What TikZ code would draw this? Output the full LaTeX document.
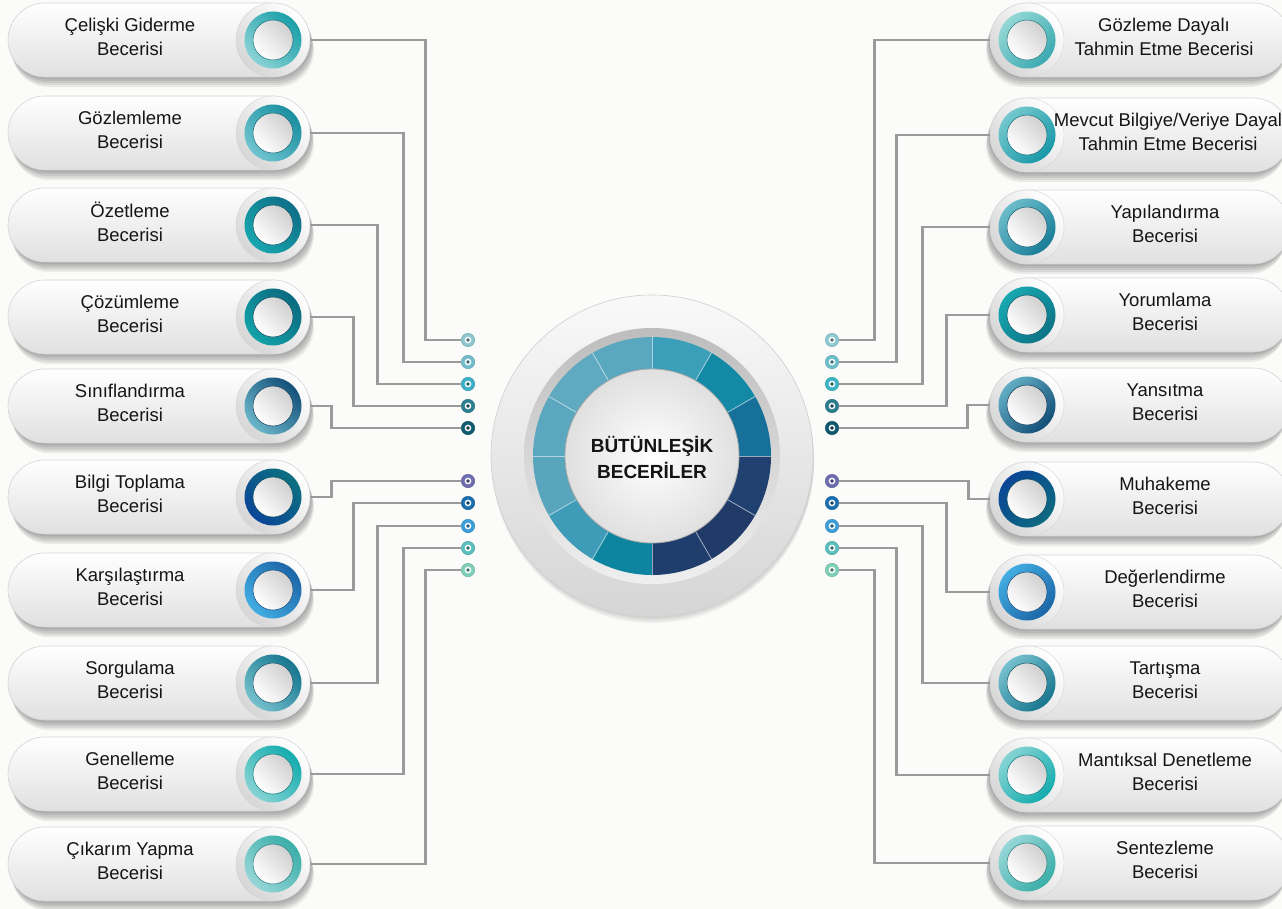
\documentclass[tikz,border=0pt]{standalone}
\usepackage{fontspec}
\setmainfont{Liberation Sans}
\usetikzlibrary{calc}
\definecolor{bgc}{HTML}{FBFBFA}
\definecolor{linegray}{HTML}{9A9A9A}
\definecolor{pillbot}{HTML}{E0E0E0}
\definecolor{pillline}{HTML}{D4D4D4}
\definecolor{halobot}{HTML}{D6D6D6}
\definecolor{txt}{HTML}{151515}
\definecolor{rd}{HTML}{000000}
\definecolor{rl}{HTML}{000000}
\definecolor{dc}{HTML}{000000}
\definecolor{innergray}{HTML}{D0D0D0}
\definecolor{ctop}{HTML}{F9F9F9}
\definecolor{cbot}{HTML}{D5D5D5}
\definecolor{cedge}{HTML}{CFCFCF}
\definecolor{btop}{HTML}{BDBDBD}
\definecolor{bbot}{HTML}{EFEFEF}
\definecolor{wout}{HTML}{E0E0E0}
\definecolor{wedge}{HTML}{A8A8A8}
\tikzset{
  conn/.style={draw=linegray,line width=2.8pt},
  lbl/.style={align=center,font=\fontsize{18.5}{24}\selectfont,text=txt,inner sep=0pt},
  pillbody/.style={rounded corners=37pt,top color=white,bottom color=pillbot,draw=pillline,line width=0.6pt},
  halo/.style={circle,minimum size=74pt,inner sep=0pt,left color=white,right color=halobot,shading angle=-45,draw=pillline,line width=0.4pt},
  innerw/.style={left color=white,right color=innergray,shading angle=135},
  dotn/.style={circle,minimum size=13.5pt,inner sep=0pt},
}
\newcommand\Lpill[5]{%
  \definecolor{rd}{HTML}{#4}\definecolor{rl}{HTML}{#5}%
  \foreach \dx/\dy in {1/2,2/4,3/6,3/8,4/10}{\fill[black,opacity=0.07,rounded corners=37pt] (8+\dx,#2-37+\dy) rectangle (310+\dx,#2+37+\dy);}%
  \path[pillbody] (8,#2-37) rectangle (310,#2+37);%
  \node[halo] (#1) at (273,#2) {};%
  \shade[left color=rd,right color=rl,shading angle=-45] (#1.center) circle (28.5);%
  \shade[innerw,draw=rd!70!black,line width=0.5pt] (#1.center) circle (20);%
  \node[lbl] (#1t) at (130,#2-3) {#3};}
\newcommand\Rpill[6]{%
  \definecolor{rd}{HTML}{#4}\definecolor{rl}{HTML}{#5}%
  \foreach \dx/\dy in {1/2,2/4,3/6,3/8,4/10}{\fill[black,opacity=0.07,rounded corners=37pt] (990-\dx,#2-37+\dy) rectangle (1290-\dx,#2+37+\dy);}%
  \path[pillbody] (990,#2-37) rectangle (1290,#2+37);%
  \node[halo] (#1) at (1027,#2) {};%
  \shade[left color=rl,right color=rd,shading angle=45] (#1.center) circle (28.5);%
  \shade[innerw,draw=rd!70!black,line width=0.5pt] (#1.center) circle (20);%
  \node[lbl] (#1t) at (#6,#2-3) {#3};}
\newcommand\Dotn[4]{%
  \definecolor{dc}{HTML}{#4}%
  \node[dotn,fill=dc,draw=dc!85!black,line width=0.4pt] (#1) at (#2,#3) {};%
  \fill[white!92!dc] (#1.center) circle (3.4);%
  \fill[dc!55!black] (#1.center) circle (1.8);}
\newcommand\Lconn[3]{\draw[conn] (#1.east) -- ++(#3,0) |- (#2.west);}
\newcommand\Rconn[3]{\draw[conn] (#1.west) -- ++(#3,0) |- (#2.east);}
\begin{document}
\begin{tikzpicture}[x=1pt,y=-1pt]
\useasboundingbox (0,0) rectangle (1282,909);
\fill[bgc] (0,0) rectangle (1282,909);
% left pills
\Lpill{L1}{40}{Çelişki Giderme\\Becerisi}{1B9FA8}{8AD3D6}
\Lpill{L2}{133}{Gözlemleme\\Becerisi}{1A8FA0}{6FC4CF}
\Lpill{L3}{225}{Özetleme\\Becerisi}{0E7088}{18A6AE}
\Lpill{L4}{317}{Çözümleme\\Becerisi}{0B6A80}{13A2A8}
\Lpill{L5}{406}{Sınıflandırma\\Becerisi}{14507A}{6AB6C9}
\Lpill{L6}{497}{Bilgi Toplama\\Becerisi}{0D7080}{0B4698}
\Lpill{L7}{590}{Karşılaştırma\\Becerisi}{1C66A8}{42ADE2}
\Lpill{L8}{683}{Sorgulama\\Becerisi}{16768F}{75C0CD}
\Lpill{L9}{774}{Genelleme\\Becerisi}{14ACAE}{86D3D3}
\Lpill{L10}{864}{Çıkarım Yapma\\Becerisi}{3AAEA8}{96D6D8}
% right pills
\Rpill{R1}{40}{Gözleme Dayalı\\Tahmin Etme Becerisi}{3AAAB0}{94D7D6}{1164}
\Rpill{R2}{135}{Mevcut Bilgiye/Veriye Dayal\\Tahmin Etme Becerisi}{1898A8}{74C8CE}{1168}
\Rpill{R3}{227}{Yapılandırma\\Becerisi}{187D98}{6BBCCB}{1165}
\Rpill{R4}{315}{Yorumlama\\Becerisi}{0C7487}{18A8B0}{1165}
\Rpill{R5}{405}{Yansıtma\\Becerisi}{124E78}{62ADC4}{1165}
\Rpill{R6}{499}{Muhakeme\\Becerisi}{0D6A80}{0A4696}{1165}
\Rpill{R7}{592}{Değerlendirme\\Becerisi}{1C66A8}{42ADE2}{1165}
\Rpill{R8}{683}{Tartışma\\Becerisi}{16768F}{75C0CD}{1165}
\Rpill{R9}{775}{Mantıksal Denetleme\\Becerisi}{14ACAE}{86D3D3}{1165}
\Rpill{R10}{863}{Sentezleme\\Becerisi}{3AAEA8}{96D6D8}{1165}
% centre
\coordinate (C) at (652,456);
\foreach \s in {2,4,6}{\fill[black,opacity=0.05] ($(C)+(1,\s)$) circle (161);}
\shade[top color=ctop,bottom color=cbot,draw=cedge,line width=0.6pt] (C) circle (161);
\shade[top color=btop,bottom color=bbot] (C) circle (128);
\foreach \a/\c in {0/17709A,30/1389A6,60/3B9FBA,90/5AA8C0,120/5FA9C1,150/5BA7BF,180/59A5BD,210/3F9CB8,240/0D85A1,270/1F3E6D,300/213B69,330/204170}{
  \definecolor{segc}{HTML}{\c}
  \fill[segc,shift={(652,456)}] (-\a:119) arc[start angle=-\a,end angle=-\a-30,radius=119] -- (-\a-30:87) arc[start angle=-\a-30,end angle=-\a,radius=87] -- cycle;}
\foreach \a in {0,30,...,330}{\draw[white,opacity=0.55,line width=0.8pt,shift={(652,456)}] (-\a:87) -- (-\a:119);}
\shade[inner color=white,outer color=wout,draw=wedge,line width=0.8pt] (C) circle (87);
\node[font=\bfseries\fontsize{19}{26}\selectfont,align=center,text=txt] (title) at (652,457) {BÜTÜNLEŞİK\\BECERİLER};
% connectors
\Dotn{D1}{468}{340}{8CC6CF}\Dotn{D2}{468}{362}{72BCCB}\Dotn{D3}{468}{384}{3AB0C4}\Dotn{D4}{468}{406}{2E7F90}\Dotn{D5}{468}{428}{0F5B70}
\Dotn{D6}{468}{481}{6D6DB0}\Dotn{D7}{468}{503}{1A6EAE}\Dotn{D8}{468}{526}{3C9ED8}\Dotn{D9}{468}{548}{5BBFC0}\Dotn{D10}{468}{570}{7FCFB8}
\Dotn{E1}{832}{340}{8EC9D3}\Dotn{E2}{832}{362}{6CBECB}\Dotn{E3}{832}{384}{3AB5C5}\Dotn{E4}{832}{406}{2A7D8E}\Dotn{E5}{832}{428}{0F5870}
\Dotn{E6}{832}{481}{6B6BAE}\Dotn{E7}{832}{503}{1B6FB0}\Dotn{E8}{832}{526}{3D9FD8}\Dotn{E9}{832}{548}{5BBFBF}\Dotn{E10}{832}{570}{80CFB8}
\Lconn{L1}{D1}{115}\Lconn{L2}{D2}{93}\Lconn{L3}{D3}{67}\Lconn{L4}{D4}{43}\Lconn{L5}{D5}{21}
\Lconn{L6}{D6}{21}\Lconn{L7}{D7}{43}\Lconn{L8}{D8}{67}\Lconn{L9}{D9}{93}\Lconn{L10}{D10}{115}
\Rconn{R1}{E1}{-115}\Rconn{R2}{E2}{-93}\Rconn{R3}{E3}{-67}\Rconn{R4}{E4}{-43}\Rconn{R5}{E5}{-22}
\Rconn{R6}{E6}{-21}\Rconn{R7}{E7}{-43}\Rconn{R8}{E8}{-67}\Rconn{R9}{E9}{-93}\Rconn{R10}{E10}{-115}
\end{tikzpicture}
\end{document}
